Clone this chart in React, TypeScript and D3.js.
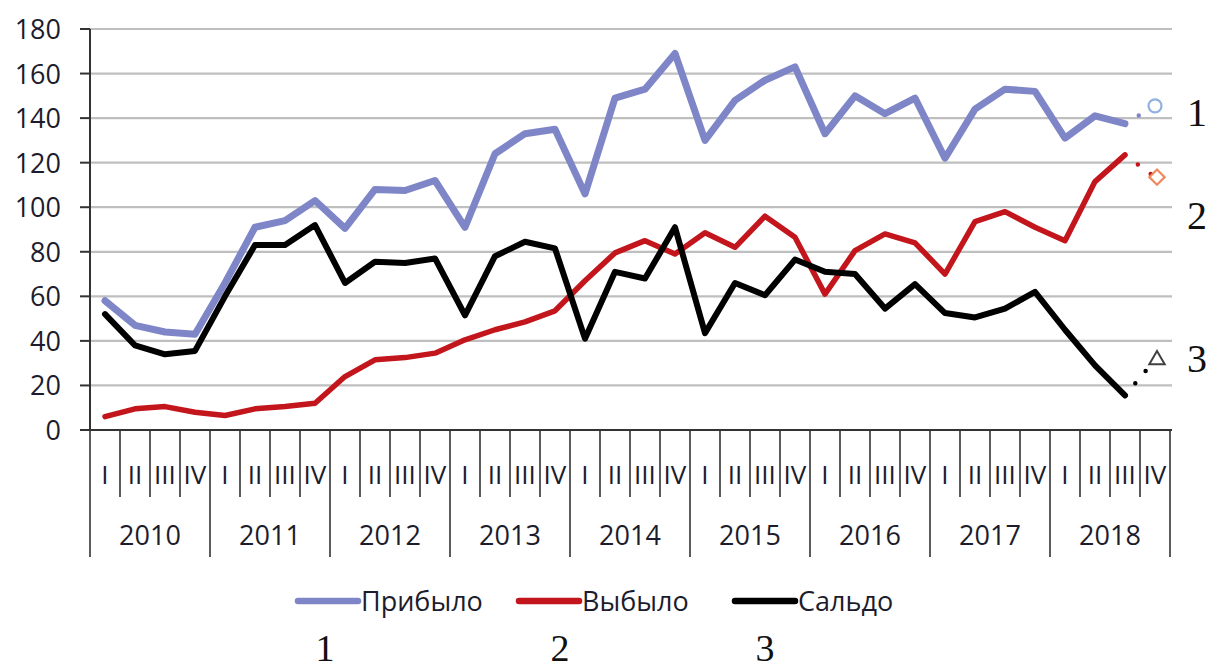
import { useEffect, useRef } from "react";
import * as d3 from "d3";

const years = ["2010", "2011", "2012", "2013", "2014", "2015", "2016", "2017", "2018"];
const quarters = ["I", "II", "III", "IV"];
const yTicks = [0, 20, 40, 60, 80, 100, 120, 140, 160, 180];
const seriesNames = ["Прибыло", "Выбыло", "Сальдо"];

// 2010 I ... 2018 III
const arrived = [
  58, 47, 44, 43, 66, 91, 94, 103, 90.5, 108, 107.5, 112, 91, 124, 133, 135, 106, 149, 153, 169,
  130, 148, 157, 163, 133, 150, 142, 149, 122, 144, 153, 152, 131, 141, 137.5,
];
const departed = [
  6, 9.5, 10.5, 8, 6.5, 9.5, 10.5, 12, 24, 31.5, 32.5, 34.5, 40.5, 45, 48.5, 53.5, 67, 79.5, 85, 79,
  88.5, 82, 96, 86.5, 61, 80.5, 88, 84, 70, 93.5, 98, 91, 85, 111.5, 123.5,
];
const balance = [
  52, 38, 34, 35.5, 60, 83, 83, 92, 66, 75.5, 75, 77, 51.5, 78, 84.5, 81.5, 41, 71, 68, 91, 43.5,
  66, 60.5, 76.5, 71, 70, 54.5, 65.5, 52.5, 50.5, 54.5, 62, 45, 29, 15.5,
];
// 2018 IV estimate
const forecast = [145.5, 113.5, 31.5];

const colors = ["#7f86c8", "#c3161c", "#000000"];
const markerColors = ["#8fb2de", "#ee8a5e", "#404040"];

export default function App() {
  const ref = useRef<SVGSVGElement>(null);

  useEffect(() => {
    if (!ref.current) return;
    const svg = d3.select(ref.current);
    svg.selectAll("*").remove();

    const left = 90;
    const right = 1170;
    const top = 29;
    const bottom = 430;
    const font = "'Open Sans', 'Liberation Sans', sans-serif";
    const weight = "500";
    const textColor = "#1c1c2c";

    const categories = years.flatMap((yr) => quarters.map((q) => `${yr} ${q}`));
    const x = d3.scaleBand().domain(categories).range([left, right]);
    const bw = x.bandwidth();
    const cx = (i: number) => (x(categories[i]) as number) + bw / 2;
    const y = d3.scaleLinear().domain([0, 180]).range([bottom, top]);

    // сетка
    svg
      .append("g")
      .selectAll("line")
      .data(yTicks.filter((t) => t > 0))
      .enter()
      .append("line")
      .attr("x1", left)
      .attr("x2", right + 2)
      .attr("y1", (d) => y(d))
      .attr("y2", (d) => y(d))
      .attr("stroke", "#bfbfbf")
      .attr("stroke-width", 2.2);

    // ось Y
    const yAxis = svg.append("g");
    yAxis
      .append("line")
      .attr("x1", left)
      .attr("x2", left)
      .attr("y1", top)
      .attr("y2", bottom)
      .attr("stroke", "#333")
      .attr("stroke-width", 2);
    yAxis
      .selectAll(".tick")
      .data(yTicks)
      .enter()
      .append("line")
      .attr("x1", left - 10)
      .attr("x2", left)
      .attr("y1", (d) => y(d))
      .attr("y2", (d) => y(d))
      .attr("stroke", "#333")
      .attr("stroke-width", 2);
    yAxis
      .selectAll("text")
      .data(yTicks)
      .enter()
      .append("text")
      .attr("x", 61)
      .attr("y", (d) => y(d) + 10)
      .attr("text-anchor", "end")
      .style("font-family", font)
      .style("font-weight", weight)
      .style("font-size", "27px")
      .style("fill", textColor)
      .text((d) => d);

    // ось X
    const xAxis = svg.append("g");
    xAxis
      .append("line")
      .attr("x1", left - 10)
      .attr("x2", right + 2)
      .attr("y1", bottom)
      .attr("y2", bottom)
      .attr("stroke", "#333")
      .attr("stroke-width", 2);
    xAxis
      .selectAll(".qtick")
      .data(categories.filter((_, i) => i % 4 !== 0))
      .enter()
      .append("line")
      .attr("x1", (d) => x(d) as number)
      .attr("x2", (d) => x(d) as number)
      .attr("y1", bottom)
      .attr("y2", 497)
      .attr("stroke", "#333")
      .attr("stroke-width", 1.6);
    const yearEdges = [...years.map((yr) => x(`${yr} I`) as number), right];
    xAxis
      .selectAll(".ytick")
      .data(yearEdges)
      .enter()
      .append("line")
      .attr("x1", (d) => d)
      .attr("x2", (d) => d)
      .attr("y1", bottom)
      .attr("y2", 557)
      .attr("stroke", "#333")
      .attr("stroke-width", 1.6);
    xAxis
      .selectAll(".qlabel")
      .data(categories)
      .enter()
      .append("text")
      .attr("x", (_, i) => cx(i))
      .attr("y", 484)
      .attr("text-anchor", "middle")
      .style("font-family", font)
      .style("font-weight", weight)
      .style("font-size", "26px")
      .style("fill", textColor)
      .text((d) => d.split(" ")[1]);
    xAxis
      .selectAll(".ylabel")
      .data(years)
      .enter()
      .append("text")
      .attr("x", (d) => (x(`${d} I`) as number) + bw * 2)
      .attr("y", 545)
      .attr("text-anchor", "middle")
      .style("font-family", font)
      .style("font-weight", weight)
      .style("font-size", "27px")
      .style("fill", textColor)
      .text((d) => d);

    // линии
    const series = [arrived, departed, balance];
    const widths = [7, 5.5, 6];
    const line = d3
      .line<number>()
      .x((_, i) => cx(i))
      .y((d) => y(d));
    series.forEach((s, k) => {
      const last = s.length - 1;
      svg
        .append("path")
        .attr("d", line(s))
        .attr("fill", "none")
        .attr("stroke", colors[k])
        .attr("stroke-width", widths[k])
        .attr("stroke-linejoin", "round")
        .attr("stroke-linecap", "round");
      // пунктир до прогноза
      svg
        .append("line")
        .attr("x1", cx(last))
        .attr("y1", y(s[last]))
        .attr("x2", cx(last + 1))
        .attr("y2", y(forecast[k]))
        .attr("stroke", colors[k])
        .attr("stroke-width", 4.5)
        .attr("stroke-linecap", "round")
        .attr("stroke-dasharray", "0 16");
    });

    // маркеры прогноза
    const fx = cx(arrived.length);
    svg
      .append("circle")
      .attr("cx", fx)
      .attr("cy", y(forecast[0]))
      .attr("r", 6.5)
      .attr("fill", "white")
      .attr("stroke", markerColors[0])
      .attr("stroke-width", 2.2);
    svg
      .append("path")
      .attr("d", d3.symbol(d3.symbolDiamond2, 150)())
      .attr("transform", `translate(${fx + 2},${y(forecast[1])})`)
      .attr("fill", "white")
      .attr("stroke", markerColors[1])
      .attr("stroke-width", 2.2);
    svg
      .append("path")
      .attr("d", d3.symbol(d3.symbolTriangle2, 170)())
      .attr("transform", `translate(${fx + 2},${y(forecast[2])})`)
      .attr("fill", "white")
      .attr("stroke", markerColors[2])
      .attr("stroke-width", 2);

    // номера серий справа
    const serif = "'Liberation Serif', 'Times New Roman', serif";
    [
      { t: "1", y: 126 },
      { t: "2", y: 229 },
      { t: "3", y: 372 },
    ].forEach((d) =>
      svg
        .append("text")
        .attr("x", 1197)
        .attr("y", d.y)
        .attr("text-anchor", "middle")
        .style("font-family", serif)
        .style("font-size", "40px")
        .style("fill", "#111")
        .text(d.t)
    );

    // легенда
    const legendX = [298, 519, 735];
    const legend = svg.append("g");
    seriesNames.forEach((name, k) => {
      legend
        .append("line")
        .attr("x1", legendX[k])
        .attr("x2", legendX[k] + 60)
        .attr("y1", 601)
        .attr("y2", 601)
        .attr("stroke", colors[k])
        .attr("stroke-width", 6.5)
        .attr("stroke-linecap", "round");
      legend
        .append("text")
        .attr("x", legendX[k] + 63)
        .attr("y", 611)
        .style("font-family", font)
        .style("font-weight", weight)
        .style("font-size", "27px")
        .style("fill", textColor)
        .text(name);
    });
    const numX = [325, 560, 765];
    numX.forEach((nx, k) =>
      svg
        .append("text")
        .attr("x", nx)
        .attr("y", 661)
        .attr("text-anchor", "middle")
        .style("font-family", serif)
        .style("font-size", "38px")
        .style("fill", "#111")
        .text(String(k + 1))
    );
  }, []);

  return (
    <svg
      ref={ref}
      width={1210}
      height={669}
      viewBox="0 0 1210 669"
      style={{ position: "absolute", left: 0, top: 0, background: "white" }}
    />
  );
}
